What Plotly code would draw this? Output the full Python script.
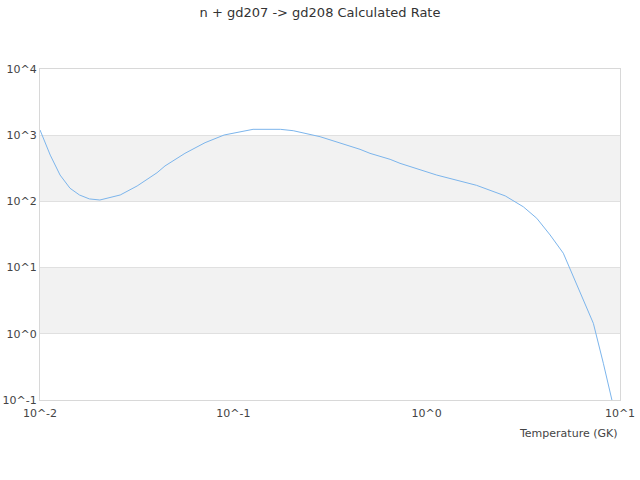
import plotly.graph_objects as go

# temperature (GK) and rate
temperature = [0.01, 0.0113, 0.0127, 0.0143, 0.016, 0.018, 0.0204, 0.026, 0.0318,
               0.0403, 0.0443, 0.0562, 0.0714, 0.0896, 0.1265, 0.175, 0.204, 0.281,
               0.452, 0.509, 0.647, 0.728, 1.127, 1.43, 1.81, 2.55, 3.16, 3.71,
               4.35, 5.09, 5.74, 6.47, 7.28, 8.2, 9.06, 10.0]
rate = [1200, 500, 250, 158, 125, 109, 105, 125, 171,
        271, 343, 532, 771, 1007, 1227, 1227, 1170, 949,
        612, 532, 432, 376, 250, 211, 175, 121, 83, 55.6,
        31.1, 16.5, 7.3, 3.24, 1.44, 0.359, 0.1, 0.03]

x_ticks = [0.01, 0.1, 1, 10]
x_labels = ["10^-2", "10^-1", "10^0", "10^1"]
y_ticks = [0.1, 1, 10, 100, 1000, 10000]
y_labels = ["10^-1", "10^0", "10^1", "10^2", "10^3", "10^4"]

fig = go.Figure()

fig.add_trace(
    go.Scatter(
        x=temperature,
        y=rate,
        mode="lines",
        line=dict(color="#7cb5ec", width=1),
        showlegend=False
    )
)

# alternating grey bands (log-decade fractions of a -1..4 range)
for y0, y1 in [(0.2, 0.4), (0.6, 0.8)]:
    fig.add_shape(type="rect", xref="paper", yref="paper", x0=0, x1=1, y0=y0, y1=y1,
                  fillcolor="#f2f2f2", line_width=0, layer="below")

fig.update_xaxes(type="log", range=[-2, 1], tickvals=x_ticks, ticktext=x_labels,
                 showgrid=False, showline=True, linewidth=1, linecolor="#d8d8d8",
                 mirror=True, ticks="", zeroline=False, automargin=False,
                 ticklabelstandoff=3,
                 tickfont=dict(size=11, color="#444"))
fig.update_yaxes(type="log", range=[-1, 4], tickvals=y_ticks, ticktext=y_labels,
                 showgrid=True, gridcolor="#e0e0e0", gridwidth=1,
                 showline=True, linewidth=1, linecolor="#d8d8d8", mirror=True,
                 ticks="", zeroline=False, automargin=False,
                 tickfont=dict(size=11, color="#444"))

fig.add_annotation(text="Temperature (GK)", xref="paper", yref="paper", x=1, y=-0.077,
                   xanchor="right", yanchor="top", showarrow=False,
                   font=dict(size=11, color="#444"))

fig.update_layout(
    title=dict(text="n + gd207 -> gd208 Calculated Rate", x=0.5, xanchor="center",
               y=0.975, yanchor="middle", font=dict(size=13, color="#333")),
    width=640,
    height=480,
    margin=dict(l=40, r=20, t=69, b=80),
    plot_bgcolor="white",
    paper_bgcolor="white",
    hovermode=False,
    font=dict(family="DejaVu Sans")
)

# drop the page's default body margin so the figure sits at the window corner
fig.write_html("out.html", config={"displayModeBar": False},
               post_script="document.body.style.margin = '0';")
